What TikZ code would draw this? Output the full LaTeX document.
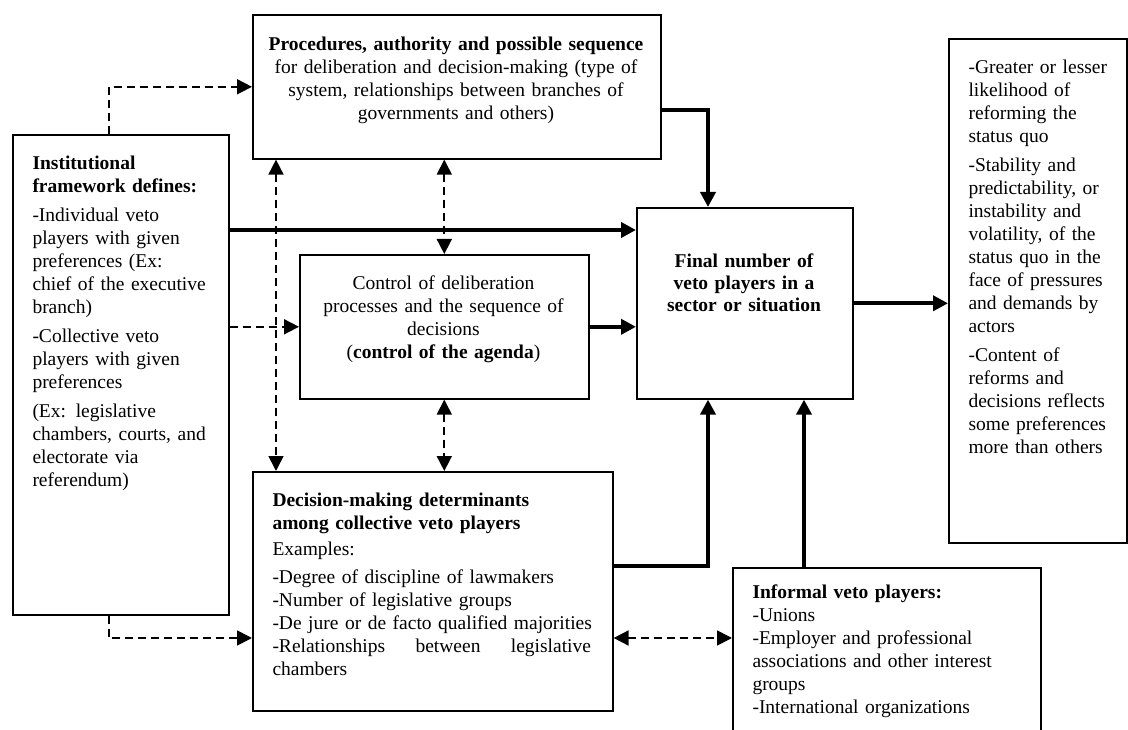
\documentclass[tikz,border=0pt]{standalone}
\usepackage{fontspec}
\setmainfont{Liberation Serif}
\usetikzlibrary{arrows.meta}
\begin{document}
\begin{tikzpicture}[x=1pt,y=-1pt,
  box/.style={draw, line width=1.6pt, anchor=north west, inner sep=0pt},
  txt/.style={inner sep=0pt, font=\fontsize{19.5}{23}\selectfont},
  thk/.style={line width=4pt, -{Triangle[length=15pt,width=15pt]}},
  dsh/.style={line width=1.7pt, dash pattern=on 8pt off 5pt, -{Triangle[length=15pt,width=15pt]}},
  dshd/.style={line width=1.7pt, dash pattern=on 8pt off 5pt, {Triangle[length=15pt,width=15pt]}-{Triangle[length=15pt,width=15pt]}},
]
\clip (0,0) rectangle (1128,730);

% boxes
\node[box, minimum width=408pt, minimum height=144pt] (top) at (252,14) {};
\node[box, minimum width=216pt, minimum height=480pt] (left) at (12,134) {};
\node[box, minimum width=289pt, minimum height=144pt] (mid) at (299,254) {};
\node[box, minimum width=360pt, minimum height=239pt] (bot) at (252,471) {};
\node[box, minimum width=216pt, minimum height=191pt] (final) at (636,207) {};
\node[box, minimum width=178pt, minimum height=504pt] (res) at (948,38) {};
\node[box, minimum width=308pt, minimum height=190pt] (inf) at (732,567) {};

% texts
\node[txt, anchor=base, text width=400pt, align=center] (toptxt) at (456,51)
  {\textbf{Procedures, authority and possible sequence}\\
   for deliberation and decision-making (type of\\
   system, relationships between branches of\\
   governments and others)};
\node[txt, anchor=base, text width=289pt, align=center] (midtxt) at (443.5,290)
  {Control of deliberation\\ processes and the sequence of\\ decisions\\
   (\textbf{control of the agenda})};
\node[txt, anchor=base, text width=216pt, align=center, font=\fontsize{19.5}{22}\selectfont\bfseries] (finaltxt) at (744,268)
  {Final number of\\ veto players in a\\ sector or situation};
\node[txt, anchor=base west, text width=190pt, align=left] (lefttxt) at (32.3,170)
  {\textbf{Institutional}\\ \textbf{framework defines:}\\[6pt]
   -Individual veto\\ players with given\\ preferences (Ex:\\ chief of the executive\\ branch)\\[6pt]
   -Collective veto\\ players with given\\ preferences\\[6pt]
   (Ex: legislative\\ chambers, courts, and\\ electorate via\\ referendum)};
\node[txt, anchor=base west, text width=160pt, align=left] (restxt) at (968.3,74)
  {-Greater or lesser\\ likelihood of\\ reforming the\\ status quo\\[6pt]
   -Stability and\\ predictability, or\\ instability and\\ volatility, of the\\ status quo in the\\ face of pressures\\ and demands by\\ actors\\[6pt]
   -Content of\\ reforms and\\ decisions reflects\\ some preferences\\ more than others};
\node[txt, anchor=base west, text width=340pt, align=left] (bottxt) at (272.3,506)
  {\textbf{Decision-making determinants}\\ \textbf{among collective veto players}\\[3pt]
   Examples:\\[5pt]
   -Degree of discipline of lawmakers\\
   -Number of legislative groups\\
   -De jure or de facto qualified majorities\\
   \makebox[318.5pt][s]{-Relationships\hfill between\hfill legislative}\\
   chambers};
\node[txt, anchor=base west, text width=280pt, align=left] (inftxt) at (752.3,598)
  {\textbf{Informal veto players:}\\ -Unions\\ -Employer and professional\\
   associations and other interest\\ groups\\ -International organizations};

% routing points
\coordinate (r1) at (0,230);
\coordinate (c1) at (276,0);
\coordinate (j1) at (708,110);
\coordinate (j2) at (0,566);
\coordinate (j3) at (804,0);
\coordinate (j4) at (0,638);

% dashed connectors
\draw[dsh] ([xshift=-12pt]left.north) |- (top.west);
\draw[dsh] ([xshift=-12pt]left.south) |- (bot.west |- j4);
\draw[dsh] (left.east |- mid.west) -- (mid.west);
\draw[dshd] (top.south -| c1) -- (bot.north -| c1);
\draw[dshd] (top.south -| mid.north) -- (mid.north);
\draw[dshd] (mid.south) -- (bot.north -| mid.south);
\draw[dshd] (bot.east |- j4) -- (inf.west |- j4);

% thick connectors
\draw[thk] (left.east |- r1) -- (final.west |- r1);
\draw[thk] (mid.east) -- (final.west |- mid.east);
\draw[thk] (top.east |- j1) -| (final.north -| j1);
\draw[thk] (final.east) -- (res.west |- final.east);
\draw[thk] (bot.east |- j2) -| (final.south -| j1);
\draw[thk] (inf.north -| j3) -- (final.south -| j3);
\end{tikzpicture}
\end{document}
